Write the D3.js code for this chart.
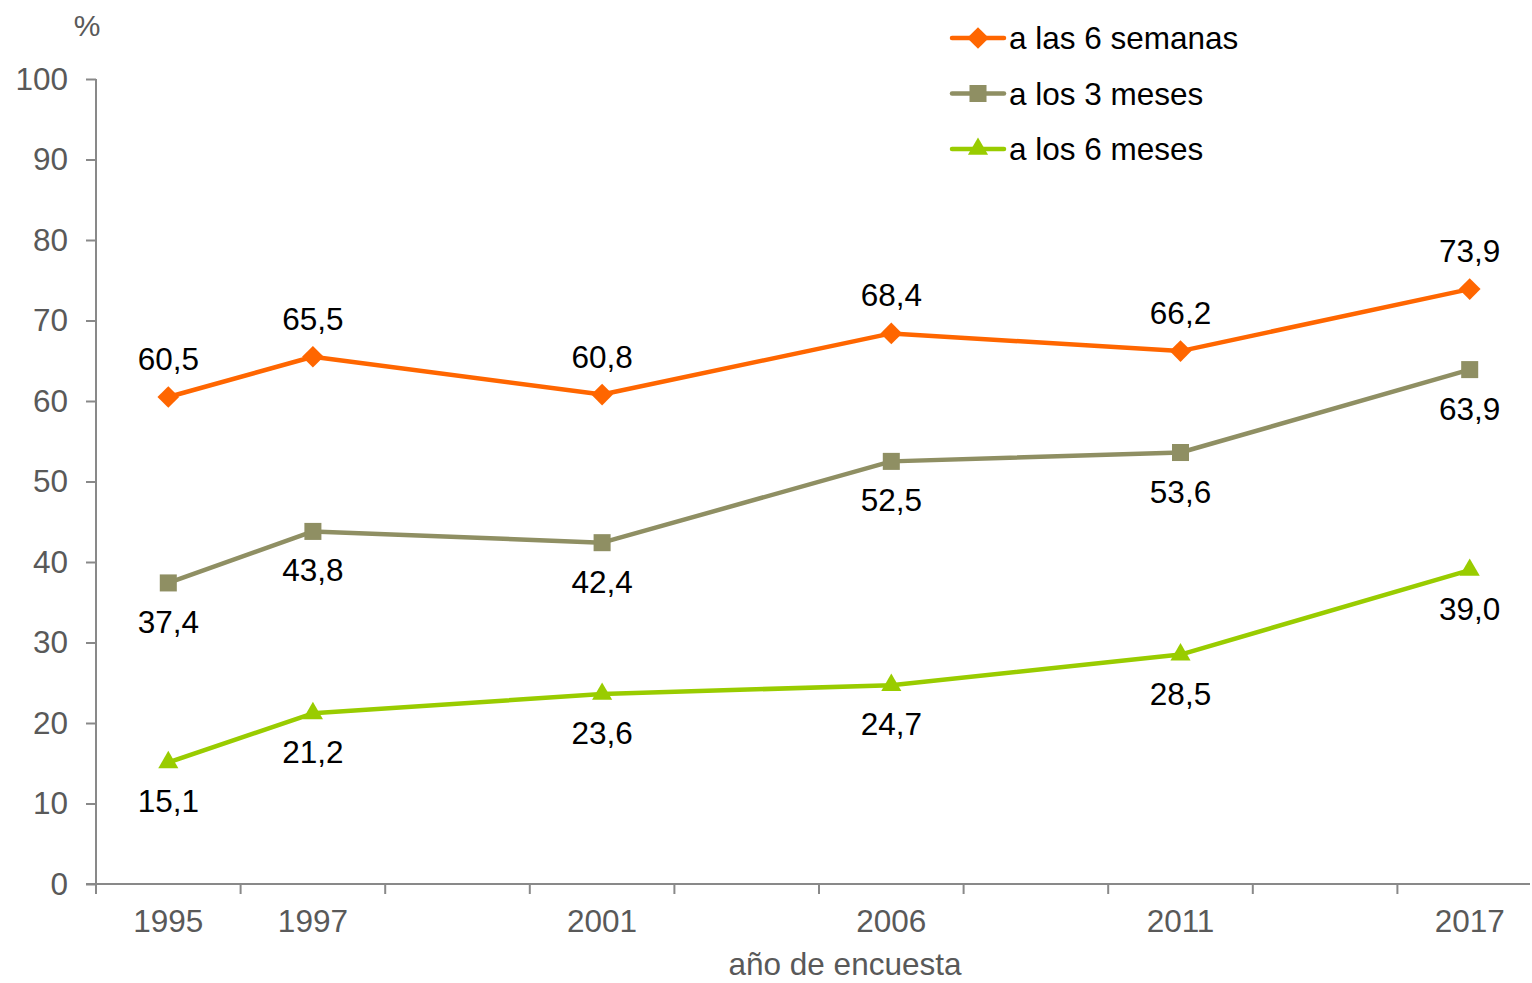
<!DOCTYPE html>
<html>
<head>
<meta charset="utf-8">
<script src="https://cdn.jsdelivr.net/npm/d3@7"></script>
<style>
  html, body { margin: 0; padding: 0; background: #fff; }
  svg { display: block; font-family: "Liberation Sans", Arial, sans-serif; }
</style>
</head>
<body>
<svg id="chart" width="1532" height="983"></svg>
<script>
// Survey years on a category axis; empty slots keep the spacing between surveys
const categories = ["1995", "1997", "", "2001", "", "2006", "", "2011", "", "2017"];
const surveyYears = ["1995", "1997", "2001", "2006", "2011", "2017"];

const sixWeeks   = [60.5, 65.5, 60.8, 68.4, 66.2, 73.9];
const threeMonth = [37.4, 43.8, 42.4, 52.5, 53.6, 63.9];
const sixMonth   = [15.1, 21.2, 23.6, 24.7, 28.5, 39.0];

const seriesNames = ["a las 6 semanas", "a los 3 meses", "a los 6 meses"];
const yTicks = [0, 10, 20, 30, 40, 50, 60, 70, 80, 90, 100];

const series = [
  { name: seriesNames[0], values: sixWeeks,   color: "#FF6600", symbol: "diamond",  labelPos: "above" },
  { name: seriesNames[1], values: threeMonth, color: "#8F8F63", symbol: "square",   labelPos: "below" },
  { name: seriesNames[2], values: sixMonth,   color: "#99CC00", symbol: "triangle", labelPos: "below" }
];

const svg = d3.select("#chart");
const W = 1532, H = 983;
const plotLeft = 96, plotRight = 1542, plotTop = 79, plotBottom = 884;
const axisEnd = 1530;

const x = d3.scaleBand().domain(d3.range(categories.length)).range([plotLeft, plotRight]);
const y = d3.scaleLinear().domain([0, 100]).range([plotBottom, plotTop]);

const axisColor = "#898989";
const tickText = "#595959";
const fontSize = 31.5;

// Y axis
const yAxis = svg.append("g").attr("transform", `translate(${plotLeft},0)`)
  .call(d3.axisLeft(y).tickValues(yTicks).tickSize(10).tickPadding(18).tickFormat(d3.format("d")));
yAxis.select(".domain").attr("stroke", axisColor).attr("stroke-width", 2).attr("d", `M0,${y(100)}V${y(0)}`);
yAxis.selectAll(".tick line").attr("stroke", axisColor).attr("stroke-width", 2);
yAxis.selectAll(".tick text").attr("fill", tickText).style("font-size", fontSize + "px")
  .attr("font-family", "Liberation Sans, Arial, sans-serif");

// X axis: ticks on category boundaries, labels centred in each band
const xg = svg.append("g").attr("transform", `translate(0,${y(0)})`);
xg.append("line").attr("x1", plotLeft - 10).attr("x2", axisEnd)
  .attr("stroke", axisColor).attr("stroke-width", 2);
const bounds = d3.range(categories.length).map(i => x(i));
xg.selectAll("line.tk").data(bounds).join("line").attr("class", "tk")
  .attr("x1", d => d).attr("x2", d => d).attr("y1", 0).attr("y2", 10)
  .attr("stroke", axisColor).attr("stroke-width", 2);
xg.selectAll("text").data(categories.map((c, i) => ({ c, i })).filter(d => d.c)).join("text")
  .attr("x", d => x(d.i) + x.bandwidth() / 2).attr("y", 48)
  .attr("text-anchor", "middle").attr("fill", tickText).style("font-size", fontSize + "px")
  .text(d => d.c);

// Axis titles
svg.append("text").attr("x", 87).attr("y", 36).attr("text-anchor", "middle")
  .attr("fill", tickText).style("font-size", "30px").text("%");
svg.append("text").attr("x", 845).attr("y", 975).attr("text-anchor", "middle")
  .attr("fill", tickText).style("font-size", fontSize + "px").text("año de encuesta");

const px = yr => x(categories.indexOf(yr)) + x.bandwidth() / 2;

function symbolPath(kind) {
  if (kind === "diamond") return d3.symbol(d3.symbolDiamond2, 300)();
  if (kind === "square") return d3.symbol(d3.symbolSquare, 290)();
  return d3.symbol(d3.symbolTriangle2, 290)();
}

const line = d3.line().x(d => px(d.year)).y(d => y(d.value));

series.forEach(s => {
  const pts = surveyYears.map((yr, i) => ({ year: yr, value: s.values[i] }));
  const g = svg.append("g");
  g.append("path").datum(pts).attr("d", line).attr("fill", "none")
    .attr("stroke", s.color).attr("stroke-width", 4.5).attr("stroke-linejoin", "round");
  g.selectAll("path.mk").data(pts).join("path").attr("class", "mk")
    .attr("transform", d => `translate(${px(d.year)},${y(d.value)})`)
    .attr("d", symbolPath(s.symbol)).attr("fill", s.color);
  g.selectAll("text").data(pts).join("text")
    .attr("x", d => px(d.year))
    .attr("y", d => y(d.value) + (s.labelPos === "above" ? -27 : 50))
    .attr("text-anchor", "middle").attr("fill", "#000").style("font-size", fontSize + "px")
    .text(d => d3.format(".1f")(d.value).replace(".", ","));
});

// Legend
const legend = svg.append("g");
series.forEach((s, i) => {
  const ly = 38 + i * 55.5;
  const lg = legend.append("g");
  lg.append("line").attr("x1", 952).attr("x2", 1004).attr("y1", ly).attr("y2", ly)
    .attr("stroke", s.color).attr("stroke-width", 4.5).attr("stroke-linecap", "round");
  lg.append("path").attr("transform", `translate(978,${ly})`).attr("d", symbolPath(s.symbol)).attr("fill", s.color);
  lg.append("text").attr("x", 1009).attr("y", ly + 11).attr("fill", "#000")
    .style("font-size", fontSize + "px").text(s.name);
});
</script>
</body>
</html>
